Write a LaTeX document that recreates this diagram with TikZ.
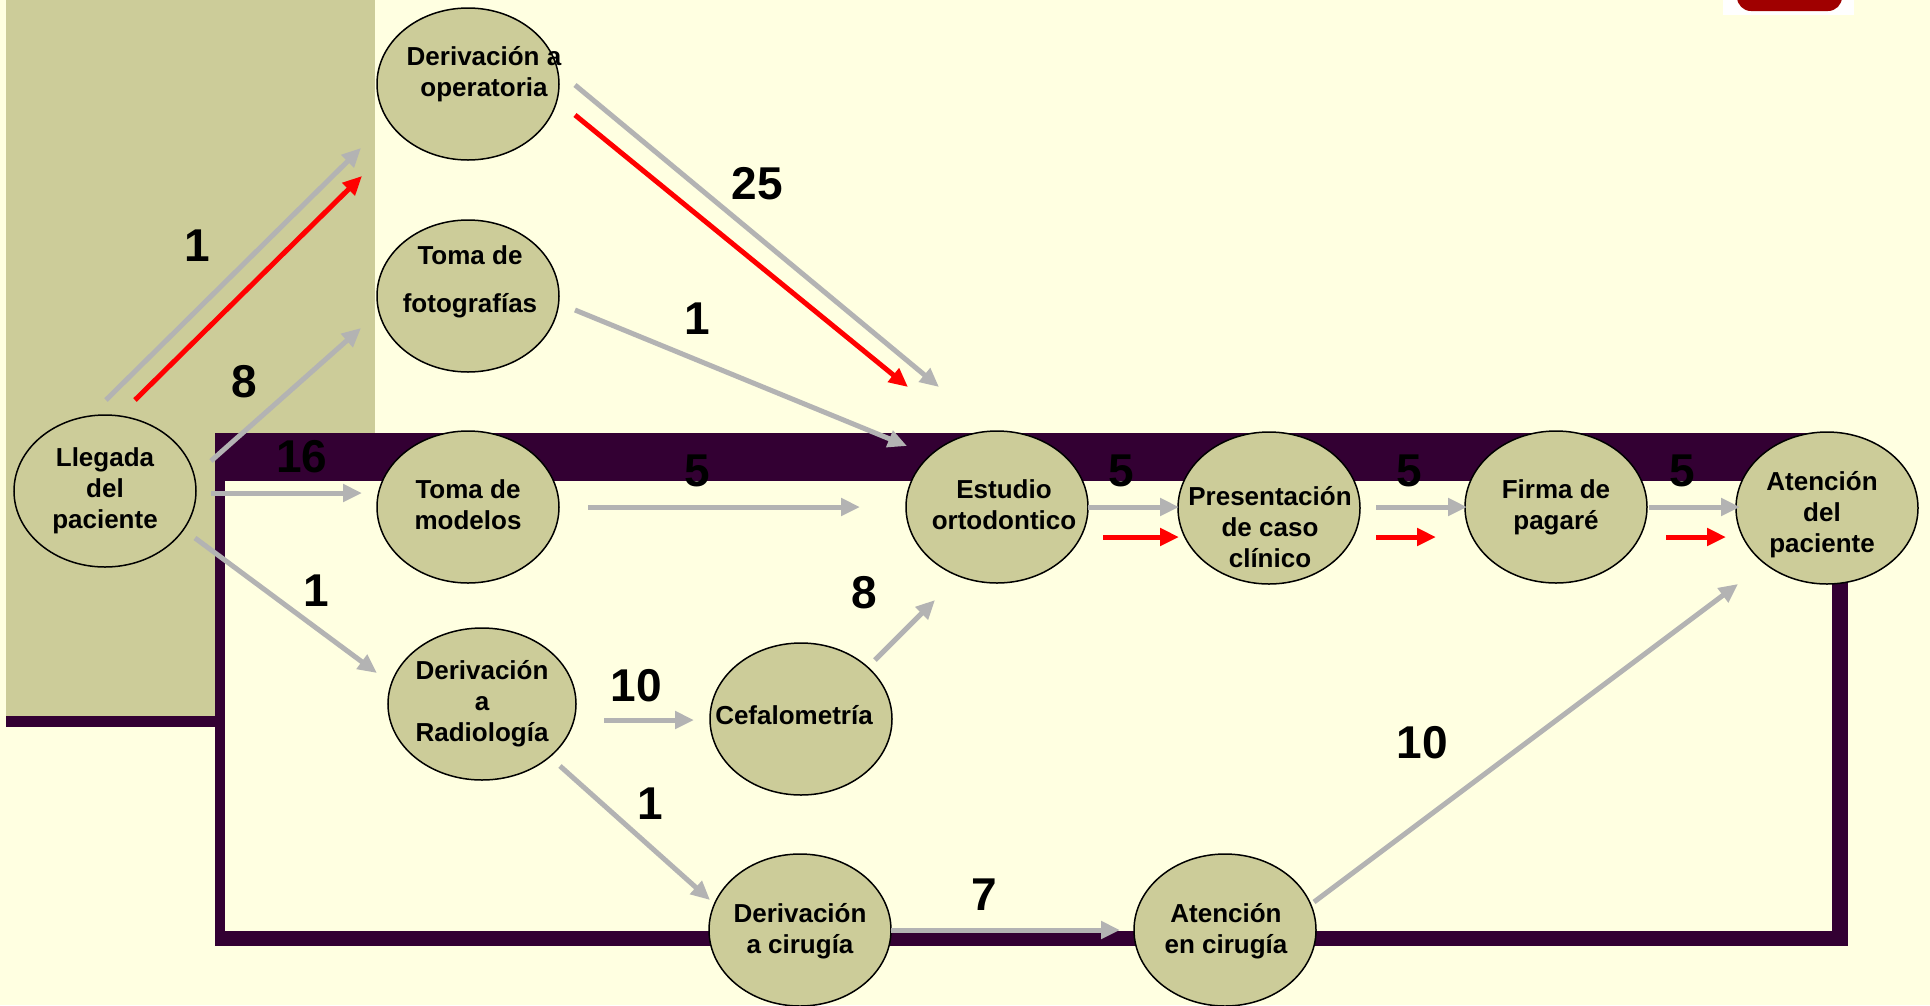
\documentclass[tikz,border=0pt]{standalone}
\usepackage{fontspec}
\setmainfont{Liberation Sans}
\usetikzlibrary{arrows.meta,shapes.geometric}
\definecolor{cream}{RGB}{255,255,225}
\definecolor{khaki}{RGB}{204,204,153}
\definecolor{darkp}{RGB}{51,0,51}
\definecolor{arrgray}{RGB}{179,179,179}
\definecolor{logored}{RGB}{160,0,0}
\begin{document}
\begin{tikzpicture}[x=1pt,y=-1pt,
  proc/.style={ellipse, draw=black, line width=1.5pt, fill=khaki, minimum width=182pt, minimum height=152pt, inner sep=0pt, align=center, font=\fontsize{26}{31}\selectfont\bfseries},
  txt/.style={align=center, inner sep=0pt, font=\fontsize{26}{31}\selectfont\bfseries},
  num/.style={inner sep=0pt, font=\fontsize{46}{46}\selectfont\bfseries},
  garr/.style={draw=arrgray, line width=5pt, -{Triangle[length=19pt,width=17pt]}},
  rarr/.style={draw=red, line width=5pt, -{Triangle[length=19pt,width=17pt]}},
]
\useasboundingbox (0,0) rectangle (1930,1005);
% backgrounds
\fill[cream] (0,0) rectangle (1930,1005);
\fill[khaki] (6,0) rectangle (375,727);
\fill[darkp] (6,716) rectangle (215,727);
\fill[darkp] (215,433) rectangle (1848,946);
\fill[cream] (225,481) rectangle (1832,931);
% logo fragment
\fill[white] (1723,0) rectangle (1854,15);
\begin{scope}
\clip (1723,0) rectangle (1854,15);
\fill[logored, rounded corners=14pt] (1737,-30) rectangle (1842,11);
\end{scope}

% nodes
\node[proc] (oper) at (468,84) {};
\node[txt] (operT) at (484,74) {Derivación a\\operatoria};
\node[proc] (fotos) at (468,296) {};
\node[txt, font=\fontsize{26}{48}\selectfont\bfseries] (fotosT) at (470,282) {Toma de\\fotografías};
\node[proc] (llegada) at (105,491) {Llegada\\del\\paciente};
\node[proc] (modelos) at (468,507) {};
\node[txt] (modelosT) at (468,505) {Toma de\\modelos};
\node[proc] (estudio) at (997,507) {};
\node[txt] (estudioT) at (1004,505) {Estudio\\ortodontico};
\node[proc] (present) at (1269,508) {};
\node[txt] (presentT) at (1270,527) {Presentación\\de caso\\clínico};
\node[proc] (firma) at (1556,507) {Firma de\\pagaré};
\node[proc] (atpac) at (1827,508) {};
\node[txt] (atpacT) at (1822,515) {Atención\\del\\paciente};
\node[proc] (radio) at (482,704) {Derivación\\a\\Radiología};
\node[proc] (cefal) at (801,719) {};
\node[txt] (cefalT) at (794,715) {Cefalometría};
\node[proc] (cirug) at (800,930) {};
\node[txt] (cirugT) at (800,931) {Derivación\\a cirugía};
\node[proc] (atcir) at (1225,930) {};
\node[txt] (atcirT) at (1226,931) {Atención\\en cirugía};

% connector end points
\coordinate (g1s) at (106,400);  \coordinate (g1e) at (361,148);
\coordinate (r1s) at (135,400);  \coordinate (r1e) at (362,176);
\coordinate (g2s) at (211,461);  \coordinate (g2e) at (361,328);
\coordinate (g3s) at (211,493);  \coordinate (g3e) at (362,493);
\coordinate (g4s) at (195,538);  \coordinate (g4e) at (377,673);
\coordinate (g5s) at (575,85);   \coordinate (g5e) at (939,387);
\coordinate (r5s) at (575,115);  \coordinate (r5e) at (908,387);
\coordinate (g6s) at (575,310);  \coordinate (g6e) at (907,446);
\coordinate (g7s) at (588,507);  \coordinate (g7e) at (860,507);
\coordinate (g8s) at (1088,507); \coordinate (g8e) at (1179,507);
\coordinate (r8s) at (1103,537); \coordinate (r8e) at (1179,537);
\coordinate (g9s) at (1376,507); \coordinate (g9e) at (1467,507);
\coordinate (r9s) at (1376,537); \coordinate (r9e) at (1436,537);
\coordinate (g10s) at (1649,507); \coordinate (g10e) at (1740,507);
\coordinate (r10s) at (1666,537); \coordinate (r10e) at (1726,537);
\coordinate (g11s) at (604,720);  \coordinate (g11e) at (694,720);
\coordinate (g12s) at (875,660);  \coordinate (g12e) at (935,600);
\coordinate (g13s) at (560,766);  \coordinate (g13e) at (710,900);
\coordinate (g14s) at (891,930);  \coordinate (g14e) at (1120,930);
\coordinate (g15s) at (1314,902); \coordinate (g15e) at (1738,584);

% connectors
\draw[garr] (g1s) -- (g1e);
\draw[rarr] (r1s) -- (r1e);
\draw[garr] (g2s) -- (g2e);
\draw[garr] (g3s) -- (g3e);
\draw[garr] (g4s) -- (g4e);
\draw[garr] (g5s) -- (g5e);
\draw[rarr] (r5s) -- (r5e);
\draw[garr] (g6s) -- (g6e);
\draw[garr] (g7s) -- (g7e);
\draw[garr] (g8s) -- (g8e);
\draw[rarr] (r8s) -- (r8e);
\draw[garr] (g9s) -- (g9e);
\draw[rarr] (r9s) -- (r9e);
\draw[garr] (g10s) -- (g10e);
\draw[rarr] (r10s) -- (r10e);
\draw[garr] (g11s) -- (g11e);
\draw[garr] (g12s) -- (g12e);
\draw[garr] (g13s) -- (g13e);
\draw[garr] (g14s) -- (g14e);
\draw[garr] (g15s) -- (g15e);

% labels
\node[num] (n1) at (197,246) {1};
\node[num] (n2) at (244,382) {8};
\node[num] (n3) at (302,457) {16};
\node[num] (n4) at (316,591) {1};
\node[num] (n5) at (757,184) {25};
\node[num] (n6) at (697,319) {1};
\node[num] (n7) at (697,471) {5};
\node[num] (n8) at (1121,471) {5};
\node[num] (n9) at (1409,471) {5};
\node[num] (n10) at (1682,471) {5};
\node[num] (n11) at (864,593) {8};
\node[num] (n12) at (636,686) {10};
\node[num] (n13) at (650,804) {1};
\node[num] (n14) at (984,895) {7};
\node[num] (n15) at (1422,743) {10};
\end{tikzpicture}
\end{document}
